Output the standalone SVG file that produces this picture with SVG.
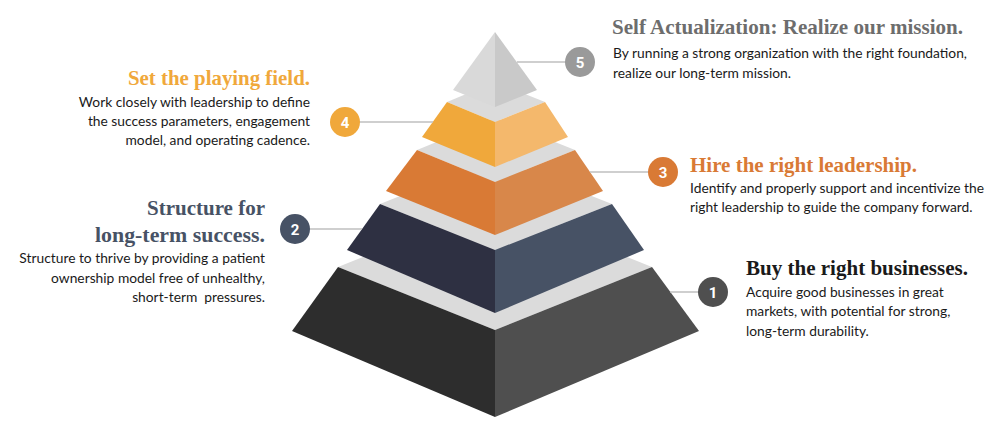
<svg xmlns="http://www.w3.org/2000/svg" width="1000" height="431" viewBox="0 0 1000 431">
<style>
.top{fill:#dbdbdb}
.ttl{font-family:"Liberation Serif","DejaVu Serif",serif;font-weight:bold;font-size:21px}
.body{font-family:Lato,"Liberation Sans",sans-serif;font-size:13.8px;fill:#1a1a1a}
.num{font-family:Roboto,"Liberation Sans",sans-serif;font-weight:bold;font-size:15px;fill:#fff;text-anchor:middle}
.conn line{stroke:#bfbfbf;stroke-width:1.5}
.r{text-anchor:end}
</style>
<rect width="1000" height="431" fill="#fff"/>
<g id="layer1">
<polygon class="top" points="338,267 495,204 652,267 495,330"/>
<polygon fill="#2d2d2d" points="338,267 495,330 495,417 292,331"/>
<polygon fill="#4f4f4f" points="495,330 652,267 699,331 495,417"/>
</g>
<g id="layer2">
<polygon class="top" points="380,204 495,158 612,204 495,250"/>
<polygon fill="#2e3042" points="380,204 495,250 495,313 347,250"/>
<polygon fill="#475265" points="495,250 612,204 644,250 495,313"/>
</g>
<g id="layer3">
<polygon class="top" points="417,150 495,118 575,150 495,182"/>
<polygon fill="#d97a35" points="417,150 495,182 495,235 386,191"/>
<polygon fill="#d8874a" points="495,182 575,150 603,191 495,235"/>
</g>
<g id="layer4">
<polygon class="top" points="447,102 495,82 545,102 495,122"/>
<polygon fill="#f0a83b" points="447,102 495,122 495,167 422,137"/>
<polygon fill="#f4b86c" points="495,122 545,102 568,137 495,167"/>
</g>
<g id="layer5">
<polygon fill="#d9d9d9" points="495,32 495,107 453,90"/>
<polygon fill="#c9c9c9" points="495,32 537,90 495,107"/>
</g>
<g id="connectors" class="conn">
<line x1="517" y1="62" x2="566" y2="62"/>
<line x1="359" y1="122" x2="433" y2="122"/>
<line x1="590" y1="172" x2="649" y2="172"/>
<line x1="309" y1="229" x2="362" y2="229"/>
<line x1="670" y1="292" x2="699" y2="292"/>
</g>
<g id="step5">
<circle cx="580" cy="62" r="15" fill="#9a9a9a"/>
<text class="num" x="580" y="67.5">5</text>
<text class="ttl" x="612" y="34" fill="#6d6d6d" textLength="351" lengthAdjust="spacingAndGlyphs">Self Actualization: Realize our mission.</text>
<text class="body" x="613" y="58">By running a strong organization with the right foundation,</text>
<text class="body" x="613" y="78">realize our long-term mission.</text>
</g>
<g id="step4">
<circle cx="345" cy="122" r="15" fill="#f0a83b"/>
<text class="num" x="345" y="127.5">4</text>
<text class="ttl r" x="310" y="85" fill="#f0a83b" textLength="182" lengthAdjust="spacingAndGlyphs">Set the playing field.</text>
<text class="body r" x="310" y="107">Work closely with leadership to define</text>
<text class="body r" x="310" y="126">the success parameters, engagement</text>
<text class="body r" x="310" y="145">model, and operating cadence.</text>
</g>
<g id="step3">
<circle cx="663" cy="172" r="15" fill="#d97a35"/>
<text class="num" x="663" y="177.5">3</text>
<text class="ttl" x="690" y="172" fill="#d97a35" textLength="227" lengthAdjust="spacingAndGlyphs">Hire the right leadership.</text>
<text class="body" x="690" y="193">Identify and properly support and incentivize the</text>
<text class="body" x="690" y="212">right leadership to guide the company forward.</text>
</g>
<g id="step2">
<circle cx="295" cy="229" r="15" fill="#475265"/>
<text class="num" x="295" y="234.5">2</text>
<text class="ttl r" x="265" y="215" fill="#475265" textLength="118" lengthAdjust="spacingAndGlyphs">Structure for</text>
<text class="ttl r" x="265" y="242" fill="#475265" textLength="170" lengthAdjust="spacingAndGlyphs">long-term success.</text>
<text class="body r" x="265" y="263">Structure to thrive by providing a patient</text>
<text class="body r" x="265" y="283">ownership model free of unhealthy,</text>
<text class="body r" x="265" y="302" xml:space="preserve">short-term  pressures.</text>
</g>
<g id="step1">
<circle cx="713" cy="292" r="15" fill="#4f4f4f"/>
<text class="num" x="713" y="297.5">1</text>
<text class="ttl" x="746" y="275" fill="#1a1a1a" textLength="222" lengthAdjust="spacingAndGlyphs">Buy the right businesses.</text>
<text class="body" x="746" y="297">Acquire good businesses in great</text>
<text class="body" x="746" y="316">markets, with potential for strong,</text>
<text class="body" x="746" y="336">long-term durability.</text>
</g>
</svg>
